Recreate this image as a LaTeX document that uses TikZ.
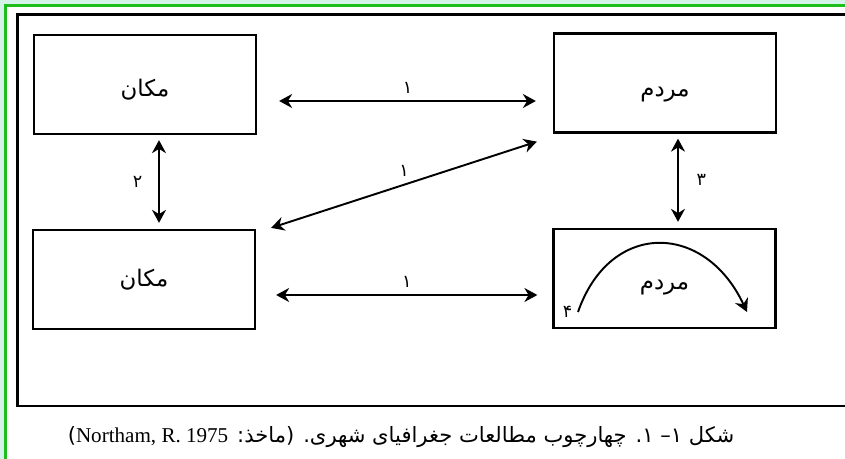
\documentclass[tikz,border=0pt]{standalone}
\usepackage{fontspec}
\setmainfont{Liberation Serif}
\newfontfamily\arabicfont[Script=Arabic]{DejaVu Sans}
\TeXXeTstate=1
\usepackage{xcolor}
\usetikzlibrary{arrows.meta}
\definecolor{mintbg}{RGB}{212,244,234}
\definecolor{framegreen}{RGB}{30,190,30}

\begin{document}
\begin{tikzpicture}[
       x=0.02cm, y=-0.02cm,
       box/.style={
           draw,
           line width=1.3pt,
           minimum width=4.44cm,
           minimum height=1.98cm,
           inner sep=0pt,
           font=\arabicfont\fontsize{13}{15}\selectfont
       },
       link/.style={line width=1.1pt, <->, >={Stealth[length=2.6mm,width=2.8mm]}},
       num/.style={font=\arabicfont\fontsize{10}{12}\selectfont, inner sep=1pt}
   ]
   \useasboundingbox (0,0) rectangle (845,459);
   \clip (0,0) rectangle (845,459);

   % Frame
   \fill[mintbg] (0,0) rectangle (845,459);
   \draw[framegreen, line width=1.7pt, fill=white] (5.5,5.5) rectangle (870,490);
   \draw[line width=1.4pt] (17.5,14.5) rectangle (880,406);


   % Left side: place
   \node[box] (place1) at (145,84.5) {\raisebox{0pt}[13.5pt][0pt]{\beginR مکان\endR}};
   \node[box] (place2) at (144,279.5) {\beginR مکان\endR};


   % Right side: people
   \node[box] (people1) at (665,83) {\raisebox{0pt}[15pt][0pt]{\beginR مردم\endR}};
   \node[box] (people2) at (664.5,278.5) {\raisebox{0pt}[13pt][0pt]{\beginR مردم\endR}};


   % Links
   \draw[link] ([shift={(22,16.5)}]place1.east) -- ([shift={(-17,18)}]people1.west)
       node[num, midway, above=3pt] {۱};
   \draw[link] ([shift={(15,-1)}]place2.north east) -- ([shift={(-16,8)}]people1.south west)
       node[num, midway, above=3pt] {۱};
   \draw[link] ([shift={(20,15.5)}]place2.east) -- ([shift={(-15,16.5)}]people2.west)
       node[num, midway, above=3pt] {۱};

   \draw[link] ([shift={(14,5)}]place1.south) -- ([shift={(15,-6)}]place2.north)
       node[num, midway, left=8pt] {۲};
   \draw[link] ([shift={(13,5)}]people1.south) -- ([shift={(13.5,-6)}]people2.north)
       node[num, midway, right=9pt] {۳};


   % Loop inside people
   \coordinate (arcA) at ([shift={(-86.5,33.5)}]people2.center);
   \coordinate (arcB) at ([shift={(82.5,33.5)}]people2.center);
   \draw[line width=1.1pt, ->, >={Stealth[length=2.6mm,width=2.8mm]}]
       (arcA) .. controls ([shift={(32,-92)}]arcA) and ([shift={(-42,-90)}]arcB) .. (arcB);
   \node[num, left=2pt] at (arcA) {۴};


   % Caption
   \node[font=\fontsize{12}{14}\selectfont] (caption) at (401,437)
       {\arabicfont\beginR شکل ۱– ۱. چهارچوب مطالعات جغرافیای شهری. (ماخذ: \beginL{\rmfamily Northam, R. 1975}\endL)\endR};

   \end{tikzpicture}
\end{document}
